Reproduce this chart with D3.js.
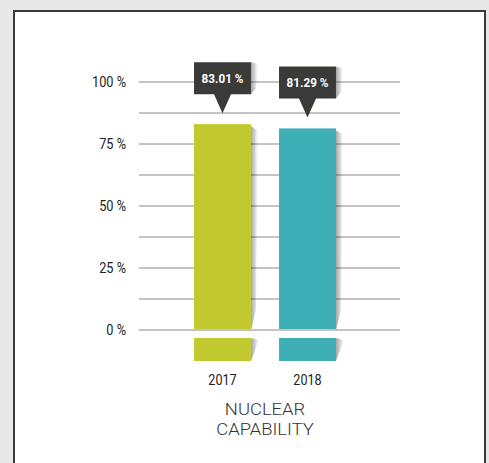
<!DOCTYPE html>
<html lang="en">
<head>
<meta charset="UTF-8">
<title>Nuclear capability</title>
<style>
  html, body { margin: 0; padding: 0; background: #e8e8e8; }
  svg { display: block; }
</style>
</head>
<body>
<svg id="svg" width="489" height="463"></svg>
<script src="https://d3js.org/d3.v7.min.js"></script>
<script>
const years = ['2017', '2018']
const values = [83.01, 81.29]
const colors = ['#c2c92f', '#3eafb5']
const ticks = [0, 12.5, 25, 37.5, 50, 62.5, 75, 87.5, 100]
const tickLabels = { 0: '0 %', 25: '25 %', 50: '50 %', 75: '75 %', 100: '100 %' }
const title = ['NUCLEAR', 'CAPABILITY']

const svg = d3.select('#svg')
const font = "Roboto, 'Liberation Sans', sans-serif"

// panel
svg.append('rect')
  .attr('x', 14).attr('y', 11)
  .attr('width', 471).attr('height', 470)
  .attr('fill', '#fff')
  .attr('stroke', '#3a3a3a')
  .attr('stroke-width', 2)

const defs = svg.append('defs')
const grad = defs.append('linearGradient').attr('id', 'shade')
grad.append('stop').attr('offset', '0%').attr('stop-color', '#000').attr('stop-opacity', 0.35)
grad.append('stop').attr('offset', '100%').attr('stop-color', '#000').attr('stop-opacity', 0)

const y = d3.scaleLinear().domain([0, 100]).range([330, 82])
const x = d3.scaleBand().domain(years).range([180, 350])
  .paddingInner(0.33).paddingOuter(0.165)

// narrow text helper: squeeze horizontally around the anchor point
const narrow = (px, py, k) => `translate(${px},${py}) scale(${k},1)`

// grid
svg.append('g').selectAll('line')
  .data(ticks).enter().append('line')
  .attr('x1', 139).attr('x2', 400)
  .attr('y1', d => y(d)).attr('y2', d => y(d))
  .attr('stroke', '#8a8a8a').attr('stroke-width', 1)

svg.append('g').selectAll('text')
  .data(ticks.filter(d => tickLabels[d])).enter().append('text')
  .attr('transform', d => narrow(126, y(d) + 5, 0.88))
  .attr('text-anchor', 'end')
  .style('font-family', font).style('font-size', '14.5px')
  .attr('fill', '#222')
  .text(d => tickLabels[d])

const groups = svg.append('g').selectAll('g')
  .data(years.map((yr, i) => ({ yr, v: values[i], c: colors[i] })))
  .enter().append('g')

// shadows
groups.append('polygon')
  .attr('points', d => {
    const r = x(d.yr) + x.bandwidth()
    return [[r, y(d.v) + 2], [r + 7, y(d.v) + 6], [r + 5, y(0) - 20], [r, y(0)]].join(' ')
  })
  .attr('fill', 'url(#shade)')

groups.append('polygon')
  .attr('points', d => {
    const r = x(d.yr) + x.bandwidth()
    return [[r, y(0) + 8], [r + 8, y(0) + 10], [r, y(0) + 31]].join(' ')
  })
  .attr('fill', 'url(#shade)')

// bars
groups.append('rect')
  .attr('x', d => x(d.yr)).attr('width', x.bandwidth())
  .attr('y', d => y(d.v)).attr('height', d => y(0) - y(d.v) - 1)
  .attr('fill', d => d.c)

groups.append('rect')
  .attr('x', d => x(d.yr)).attr('width', x.bandwidth())
  .attr('y', y(0) + 8).attr('height', 23)
  .attr('fill', d => d.c)

// callouts
groups.append('polygon')
  .attr('points', d => {
    const r = x(d.yr) + x.bandwidth()
    const b = y(d.v) - 30
    return [[r, b - 32], [r + 7, b - 30], [r + 5, b - 6], [r, b]].join(' ')
  })
  .attr('fill', 'url(#shade)')

groups.append('path')
  .attr('d', d => {
    const l = x(d.yr), r = l + x.bandwidth(), cx = l + x.bandwidth() / 2
    const tip = y(d.v) - 11, b = tip - 19, t = b - 32
    return `M${l},${t}H${r}V${b}H${cx + 8.5}L${cx},${tip}L${cx - 8.5},${b}H${l}Z`
  })
  .attr('fill', '#3a3a38')

groups.append('text')
  .attr('transform', d => narrow(x(d.yr) + x.bandwidth() / 2, y(d.v) - 30 - 11, 0.9))
  .attr('text-anchor', 'middle')
  .style('font-family', font).style('font-size', '13px').style('font-weight', 'bold')
  .attr('fill', '#fff')
  .text(d => d.v.toFixed(2) + ' %')

// year labels
groups.append('text')
  .attr('transform', d => narrow(x(d.yr) + x.bandwidth() / 2, 385, 0.9))
  .attr('text-anchor', 'middle')
  .style('font-family', font).style('font-size', '14px')
  .attr('fill', '#222')
  .text(d => d.yr)

// title
svg.append('g').selectAll('text')
  .data(title).enter().append('text')
  .attr('transform', (d, i) => narrow(265, 415 + i * 20, 1.08))
  .attr('text-anchor', 'middle')
  .style('font-family', font).style('font-size', '17px').style('font-weight', 300)
  .attr('fill', '#333')
  .text(d => d)
</script>
</body>
</html>
